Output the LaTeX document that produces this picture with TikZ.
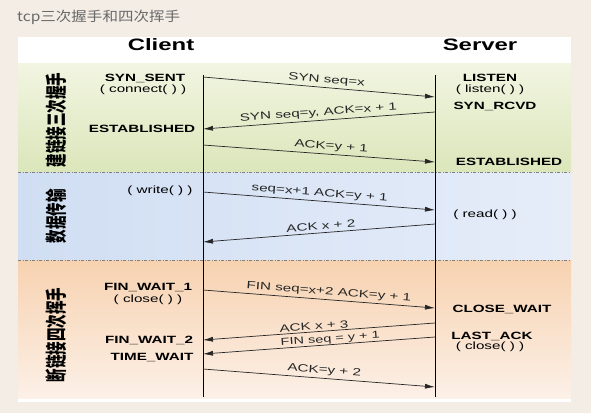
\documentclass[tikz,border=0pt]{standalone}
\usepackage{fontspec}
\setmainfont{Liberation Sans}[FakeStretch=1.45]
\newfontfamily\cjk{Noto Sans CJK SC}
\usepackage{tikz}
\usetikzlibrary{arrows.meta}
\definecolor{pagebg}{RGB}{243,237,230}
\definecolor{greentop}{RGB}{242,245,226}
\definecolor{greenbot}{RGB}{219,230,186}
\definecolor{blueleft}{RGB}{208,222,243}
\definecolor{blueright}{RGB}{230,237,249}
\definecolor{orangetop}{RGB}{247,210,176}
\definecolor{orangebot}{RGB}{252,240,231}
\definecolor{titlegray}{RGB}{105,105,105}

\begin{document}
\begin{tikzpicture}[x=1pt,y=-1pt,
  head/.style={font=\bfseries\fontsize{16.5}{18}\selectfont,inner sep=0pt},
  state/.style={font=\bfseries\fontsize{10.5}{12}\selectfont,inner sep=0pt},
  call/.style={font=\fontsize{10.5}{12}\selectfont,inner sep=0pt},
  msg/.style={-{Latex[length=10pt,width=5pt]},line width=0.7pt,black!85},
  lbl/.style={font=\fontsize{10.5}{12}\selectfont,sloped,above,inner sep=2.5pt},
  phase/.style={font=\cjk\bfseries\fontsize{13.5}{14}\selectfont,rotate=90,yscale=1.6,inner sep=0pt},
  sep/.style={gray,line width=0.8pt,dash pattern=on 3pt off 1.5pt on 1pt off 1.5pt}]
% Fundo
\useasboundingbox (0,0) rectangle (591,413);
\fill[pagebg] (0,0) rectangle (591,413);
\node[anchor=west,inner sep=0pt,xscale=1.15,text=titlegray,font=\cjk\fontsize{13.5}{14}\selectfont] (title) at (17,17) {tcp三次握手和四次挥手};
% Painel
\fill[white] (18,37) rectangle (571,402);
\shade[top color=greentop,bottom color=greenbot] (18,63) rectangle (571,172); % Conexao
\shade[left color=blueleft,right color=blueright] (18,172) rectangle (571,260); % Dados
\shade[top color=orangetop,bottom color=orangebot] (18,260) rectangle (571,398); % Fecho
\draw[sep] (18,172.5) -- (571,172.5);
\draw[sep] (18,260) -- (571,260);
% Cabecalhos
\node[head] (client) at (161,45) {Client};
\node[head] (server) at (480,45) {Server};
% Linhas de vida
\coordinate (ctop) at (203,75);
\coordinate (cbot) at (203,397);
\coordinate (stop) at (435,75);
\coordinate (sbot) at (435,397);
\draw[line width=0.8pt] (ctop) -- (cbot); % Cliente
\draw[line width=0.8pt] (stop) -- (sbot); % Servidor
% Fases
\node[phase] (open) at (56,120) {建链接三次握手};
\node[phase] (data) at (56,216) {数据传输};
\node[phase] (close) at (56,335) {断链接四次挥手};
% Estados do cliente
\node[state] (synsent) at (145,78) {SYN\_SENT};
\node[call] (connect) at (143,90) {( connect( ) )};
\node[state] (estc) at (142,129) {ESTABLISHED};
\node[call] (write) at (160,191) {( write( ) )};
\node[state] (fin1) at (148,288) {FIN\_WAIT\_1};
\node[call] (closec) at (148,300) {( close( ) )};
\node[state] (fin2) at (149,340) {FIN\_WAIT\_2};
\node[state] (timewait) at (152,358) {TIME\_WAIT};
% Estados do servidor
\node[state] (listen) at (490,78) {LISTEN};
\node[call] (listencall) at (490,90) {( listen( ) )};
\node[state] (synrcvd) at (495,106) {SYN\_RCVD};
\node[state] (ests) at (509,162) {ESTABLISHED};
\node[call] (read) at (485,215) {( read( ) )};
\node[state] (closewait) at (502,309) {CLOSE\_WAIT};
\node[state] (lastack) at (492,336) {LAST\_ACK};
\node[call] (closes) at (490,347) {( close( ) )};
% Pontos das mensagens
\coordinate (c1) at (203,77);  \coordinate (s1) at (435,97);
\coordinate (s2) at (435,112); \coordinate (c2) at (203,129);
\coordinate (c3) at (203,145); \coordinate (s3) at (435,162);
\coordinate (c4) at (203,192); \coordinate (s4) at (435,210);
\coordinate (s5) at (435,224); \coordinate (c5) at (203,242);
\coordinate (c6) at (203,290); \coordinate (s6) at (435,308);
\coordinate (s7) at (435,323); \coordinate (c7) at (203,340);
\coordinate (s8) at (435,337); \coordinate (c8) at (203,354);
\coordinate (c9) at (203,369); \coordinate (s9) at (435,387);
% Mensagens
\draw[msg] (c1) -- node[lbl,pos=0.53] {SYN seq=x} (s1);
\draw[msg] (s2) -- node[lbl,pos=0.5] {SYN seq=y, ACK=x + 1} (c2);
\draw[msg] (c3) -- node[lbl,pos=0.55] {ACK=y + 1} (s3);
\draw[msg] (c4) -- node[lbl,pos=0.5] {seq=x+1 ACK=y + 1} (s4);
\draw[msg] (s5) -- node[lbl,pos=0.49] {ACK x + 2} (c5);
\draw[msg] (c6) -- node[lbl,pos=0.54] {FIN seq=x+2 ACK=y + 1} (s6);
\draw[msg] (s7) -- node[lbl,pos=0.52,inner sep=1.5pt] {ACK x + 3} (c7);
\draw[msg] (s8) -- node[lbl,pos=0.45,inner sep=0.3pt,font=\fontsize{10}{10}\selectfont] {FIN seq = y + 1} (c8);
\draw[msg] (c9) -- node[lbl,pos=0.52] {ACK=y + 2} (s9);
\end{tikzpicture}
\end{document}
